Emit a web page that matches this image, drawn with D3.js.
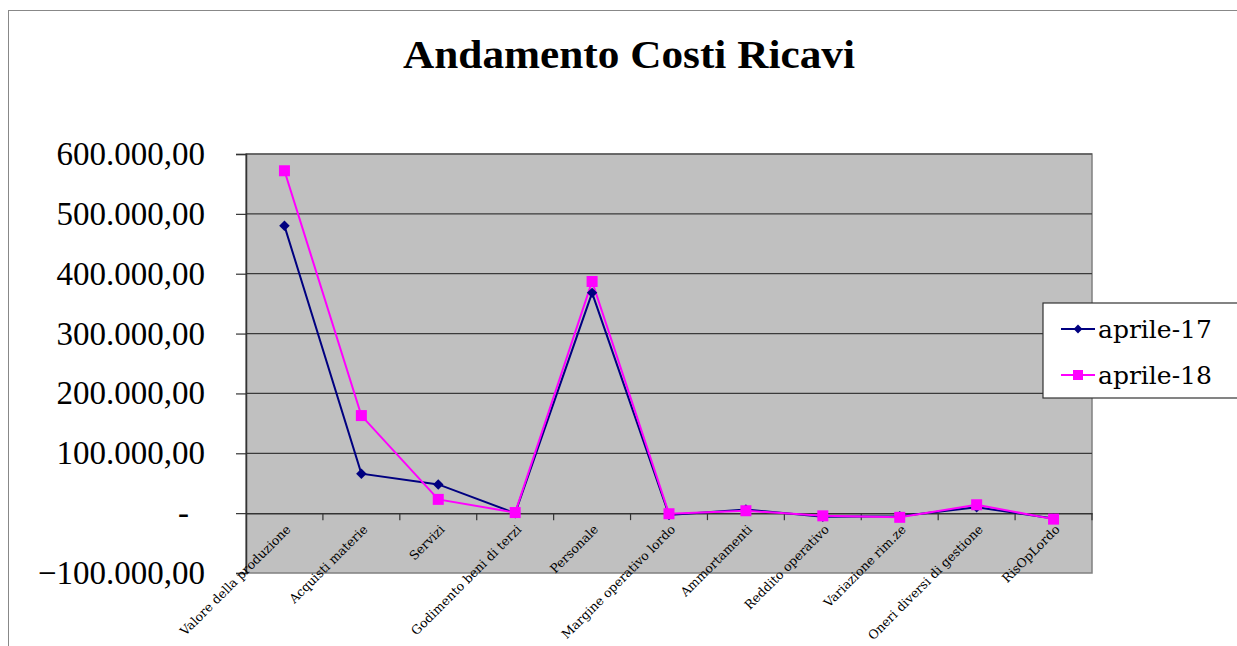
<!DOCTYPE html>
<html>
<head>
<meta charset="utf-8">
<script src="https://cdn.jsdelivr.net/npm/d3@7"></script>
<style>
body { margin: 0; background: #fff; }
svg { display: block; }
</style>
</head>
<body>
<svg width="1237" height="646"></svg>
<script>
// categories and values
var categories = ["Valore della produzione", "Acquisti materie", "Servizi", "Godimento beni di terzi",
    "Personale", "Margine operativo lordo", "Ammortamenti", "Reddito operativo",
    "Variazione rim.ze", "Oneri diversi di gestione", "RisOpLordo"];
var apr17 = [480000, 66000, 48000, 0, 368000, -3000, 6000, -6000, -5000, 10000, -9000];
var apr18 = [572000, 163000, 23000, 1000, 387000, -1000, 4000, -4500, -7000, 14000, -10000];
var yTicks = [-100000, 0, 100000, 200000, 300000, 400000, 500000, 600000];
var seriesNames = ["aprile-17", "aprile-18"];

var serifA = "'Liberation Serif', 'Times New Roman', serif";
var serifB = "'DejaVu Serif', serif";

var svg = d3.select("svg"),
    margin = {top: 154, left: 246},
    width = 1092 - 246,
    height = 573 - 154;

// outer frame
svg.append("rect")
    .attr("x", 8.5).attr("y", 10.5)
    .attr("width", 1300).attr("height", 700)
    .attr("fill", "none")
    .attr("stroke", "#888")
    .attr("stroke-width", 1);

svg.append("text")
    .attr("x", 629).attr("y", 68)
    .attr("text-anchor", "middle")
    .attr("textLength", 452)
    .attr("lengthAdjust", "spacingAndGlyphs")
    .style("font-family", serifA)
    .style("font-size", "39px")
    .style("font-weight", "bold")
    .text("Andamento Costi Ricavi");

var x = d3.scaleBand().domain(categories).range([0, width]);
var y = d3.scaleLinear().domain([-100000, 600000]).range([height, 0]);

var chart = svg.append("g")
    .attr("transform", "translate(" + margin.left + "," + margin.top + ")");

chart.append("rect")
    .attr("width", width).attr("height", height)
    .attr("fill", "#c0c0c0")
    .attr("stroke", "#808080")
    .attr("stroke-width", 1.5);

// gridlines
chart.selectAll(".grid")
    .data(yTicks.filter(function(d) { return d !== -100000 && d !== 0; }))
    .enter()
    .append("line")
    .attr("x1", 0).attr("x2", width)
    .attr("y1", function(d) { return y(d); })
    .attr("y2", function(d) { return y(d); })
    .attr("stroke", "#3a3a3a")
    .attr("stroke-width", 1.2);

// y axis, italian number format
var fmt = function(d) {
    if (d === 0) return "-";
    var s = d3.format(",.2f")(d);
    return s.replace(/,/g, "#").replace(/\./g, ",").replace(/#/g, ".");
};
var yAxis = chart.append("g")
    .call(d3.axisLeft(y).tickValues(yTicks).tickSize(10).tickPadding(31).tickFormat(fmt));
yAxis.select(".domain").attr("stroke", "#333").attr("stroke-width", 1.5);
yAxis.selectAll(".tick line").attr("stroke", "#333").attr("stroke-width", 1.2);
yAxis.selectAll(".tick text")
    .style("font-family", serifA)
    .style("font-size", "33px")
    .attr("fill", "#000")
    .attr("dx", function(d) { return d === 0 ? -16 : 0; });

// zero axis with category ticks
var xAxis = chart.append("g")
    .attr("transform", "translate(0," + y(0) + ")")
    .call(d3.axisBottom(x).tickSize(0).tickFormat(""));
xAxis.select(".domain").attr("stroke", "#333").attr("stroke-width", 1.5);
chart.selectAll(".cat-tick")
    .data(categories)
    .enter()
    .append("line")
    .attr("x1", function(d) { return x(d) + x.bandwidth(); })
    .attr("x2", function(d) { return x(d) + x.bandwidth(); })
    .attr("y1", y(0)).attr("y2", y(0) + 7)
    .attr("stroke", "#333").attr("stroke-width", 1.2);

// category labels
chart.selectAll(".cat-label")
    .data(categories)
    .enter()
    .append("text")
    .attr("text-anchor", "end")
    .attr("transform", function(d) {
        return "translate(" + (x(d) + x.bandwidth() / 2 + 7) + "," + (y(0) + 17) + ")rotate(-45)";
    })
    .style("font-family", serifB)
    .style("font-size", "12.5px")
    .attr("fill", "#000")
    .text(function(d) { return d; });

var cx = function(d, i) { return x(categories[i]) + x.bandwidth() / 2; };
var line = d3.line().x(function(d, i) { return cx(d, i); }).y(function(d) { return y(d); });

chart.append("path")
    .datum(apr17)
    .attr("fill", "none")
    .attr("stroke", "#000080")
    .attr("stroke-width", 2)
    .attr("d", line);
chart.append("path")
    .datum(apr18)
    .attr("fill", "none")
    .attr("stroke", "#ff00ff")
    .attr("stroke-width", 2)
    .attr("d", line);

var diamond = d3.symbol().type(d3.symbolDiamond2).size(70);
chart.selectAll(".m17")
    .data(apr17)
    .enter()
    .append("path")
    .attr("d", diamond)
    .attr("transform", function(d, i) { return "translate(" + cx(d, i) + "," + y(d) + ")"; })
    .attr("fill", "#000080");
chart.selectAll(".m18")
    .data(apr18)
    .enter()
    .append("rect")
    .attr("x", function(d, i) { return cx(d, i) - 5.5; })
    .attr("y", function(d) { return y(d) - 5.5; })
    .attr("width", 11).attr("height", 11)
    .attr("fill", "#ff00ff");

// legend
var legend = svg.append("g").attr("transform", "translate(1043,303)");
legend.append("rect")
    .attr("width", 200).attr("height", 95)
    .attr("fill", "#fff")
    .attr("stroke", "#333")
    .attr("stroke-width", 1.2);
var items = legend.selectAll(".item")
    .data(seriesNames)
    .enter()
    .append("g")
    .attr("transform", function(d, i) { return "translate(0," + (26 + i * 46) + ")"; });
items.append("line")
    .attr("x1", 18).attr("x2", 52)
    .attr("stroke", function(d, i) { return i === 0 ? "#000080" : "#ff00ff"; })
    .attr("stroke-width", 2);
items.append("path")
    .attr("d", function(d, i) { return i === 0 ? d3.symbol().type(d3.symbolDiamond2).size(50)() : "M-5,-5h10v10h-10z"; })
    .attr("transform", "translate(35,0)")
    .attr("fill", function(d, i) { return i === 0 ? "#000080" : "#ff00ff"; });
items.append("text")
    .attr("x", 55)
    .attr("dy", "0.35em")
    .style("font-family", serifB)
    .style("font-size", "25px")
    .attr("fill", "#000")
    .text(function(d) { return d; });
</script>
</body>
</html>
